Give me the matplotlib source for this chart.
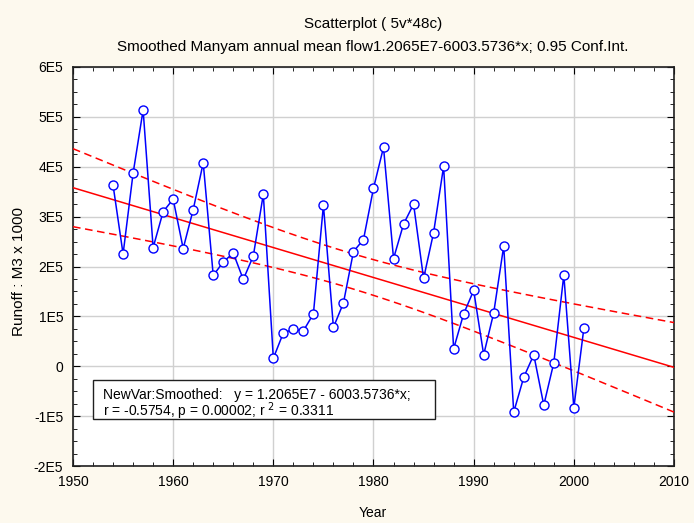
import numpy as np
import matplotlib
matplotlib.use("Agg")
import matplotlib.pyplot as plt
from matplotlib.ticker import MultipleLocator
from matplotlib.patches import Rectangle

plt.rcParams['font.family'] = ['Liberation Sans', 'DejaVu Sans']

years = list(range(1954, 2002))
runoff = [363000, 225000, 387000, 514000, 238000, 310000, 335000, 236000, 314000, 408000,
          182000, 209000, 227000, 174000, 221000, 345000, 16000, 67000, 74000, 71000,
          105000, 323000, 78000, 127000, 230000, 254000, 357000, 439000, 216000, 285000,
          325000, 176000, 268000, 401000, 35000, 105000, 152000, 23000, 107000, 241000,
          -92000, -22000, 23000, -78000, 7000, 183000, -83000, 76000]

intercept = 1.2065e7
slope = -6003.5736
t_crit = 2.0129  # t(0.975, df=46)

xticks = [1950, 1960, 1970, 1980, 1990, 2000, 2010]
yticks = [-2e5, -1e5, 0, 1e5, 2e5, 3e5, 4e5, 5e5, 6e5]
ytick_labels = ['-2E5', '-1E5', '0', '1E5', '2E5', '3E5', '4E5', '5E5', '6E5']

title1 = "Scatterplot ( 5v*48c)"
title2 = "Smoothed Manyam annual mean flow1.2065E7-6003.5736*x; 0.95 Conf.Int."
xlabel = "Year"
ylabel = "Runoff : M3 x 1000"
legend_line1 = "NewVar:Smoothed:   y = 1.2065E7 - 6003.5736*x;"
legend_line2 = "r = -0.5754, p = 0.00002; r $^2$ = 0.3311"

bg = '#FDF9EE'
fig = plt.figure(figsize=(6.94, 5.23), dpi=100, facecolor=bg)
W, H = 694, 523
left, right, top, bottom = 73, 674, 67, 466
ax = fig.add_axes([left / W, 1 - bottom / H, (right - left) / W, (bottom - top) / H])
ax.set_facecolor('white')

x = np.array(years, dtype=float)
y = np.array(runoff, dtype=float)
n = len(x)
xm = x.mean()
sxx = ((x - xm) ** 2).sum()
resid = y - (intercept + slope * x)
s = np.sqrt((resid ** 2).sum() / (n - 2))

xl = np.linspace(1950, 2010, 200)
yl = intercept + slope * xl
hw = t_crit * s * np.sqrt(1.0 / n + (xl - xm) ** 2 / sxx)

ax.plot(xl, yl, color='#FF0000', lw=1.1, zorder=3)
ax.plot(xl, yl + hw, color='#FF0000', lw=1.1, ls=(0, (5, 3)), zorder=3)
ax.plot(xl, yl - hw, color='#FF0000', lw=1.1, ls=(0, (5, 3)), zorder=3)

ax.plot(x, y, color='#0000FF', lw=1.1, marker='o', ms=6.5, mfc='white', mec='#0000FF', mew=1.0, zorder=4)

ax.set_xlim(1950, 2010)
ax.set_ylim(-2e5, 6e5)
ax.set_xticks(xticks)
ax.set_xticklabels([str(v) for v in xticks])
ax.set_yticks(yticks)
ax.set_yticklabels(ytick_labels)
ax.xaxis.set_minor_locator(MultipleLocator(2))
ax.yaxis.set_minor_locator(MultipleLocator(25000))
ax.grid(True, which='major', color='#D0D0D0', lw=1.0, zorder=0)
ax.tick_params(which='both', direction='in', top=True, right=True, labelsize=10)
ax.tick_params(axis='x', which='major', pad=6.8)
ax.tick_params(axis='y', which='major', pad=7)
ax.tick_params(which='major', length=5)
ax.tick_params(which='minor', length=3)
for sp in ax.spines.values():
    sp.set_linewidth(1.2)
    sp.set_color('#202020')

fig.text(373 / W, 1 - 517 / H, xlabel, ha='center', va='baseline', fontsize=10)
fig.text(19 / W, 1 - 271 / H, ylabel, ha='center', va='center', rotation=90, fontsize=11)

fig.text(373 / W, 1 - 24 / H, title1, ha='center', va='center', fontsize=11)
fig.text(373 / W, 1 - 47 / H, title2, ha='center', va='center', fontsize=11)

# legend box
bx0, bx1 = (93 - left) / (right - left), (435 - left) / (right - left)
by0, by1 = (bottom - 419) / (bottom - top), (bottom - 380) / (bottom - top)
ax.add_patch(Rectangle((bx0, by0), bx1 - bx0, by1 - by0, transform=ax.transAxes,
                       fc='white', ec='#202020', lw=1.0, zorder=6))
tx = (103 - left) / (right - left)
ax.text(tx, (bottom - 395) / (bottom - top), legend_line1, transform=ax.transAxes,
        ha='left', va='center', fontsize=10, zorder=7)
ax.text(tx, (bottom - 411.5) / (bottom - top), legend_line2, transform=ax.transAxes,
        ha='left', va='center', fontsize=10, zorder=7)

fig.savefig('out.png', dpi=100, facecolor=bg)
